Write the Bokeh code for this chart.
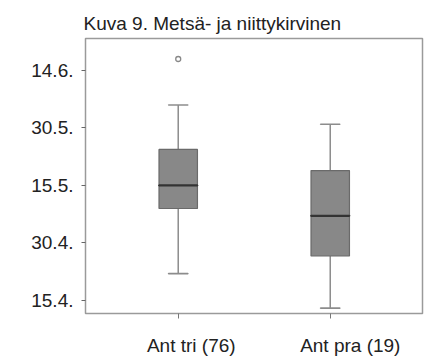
from bokeh.plotting import figure
from bokeh.models import Range1d, FixedTicker
from bokeh.embed import file_html
from bokeh.resources import INLINE

# Nesting date (day of year) summaries for the two pipit species
groups = ["Ant tri (76)", "Ant pra (19)"]
lower_whisker = [112.0, 103.0]
q1 = [129.0, 116.6]
median = [135.0, 127.1]
q3 = [144.4, 138.9]
upper_whisker = [156.0, 151.0]
outlier_x = [1]
outlier_y = [168.0]

# y ticks: day of year and Finnish date labels
tick_days = [105, 120, 135, 150, 165]
tick_labels = ["15.4.", "30.4.", "15.5.", "30.5.", "14.6."]

xs = [1, 2]
# group names sit a little to the right of their boxes
label_pos = [1.086, 2.132]

FONT = "Liberation Sans"
GRAY = "#8c8c8c"

p = figure(width=426, height=360, output_backend="svg", toolbar_location=None,
           x_range=Range1d(0.39, 2.607), y_range=Range1d(101.6, 173.35),
           min_border_left=85, min_border_right=4, min_border_top=38,
           min_border_bottom=47, background_fill_color="white",
           border_fill_color="white")

p.title.text = "Kuva 9. Metsä- ja niittykirvinen"
p.title.text_font = FONT
p.title.text_font_size = "19px"
p.title.text_font_style = "normal"
p.title.text_color = "#222222"
p.title.align = "left"
p.title.offset = -2

p.xgrid.visible = False
p.ygrid.visible = False
p.outline_line_color = "#9a9a9a"
p.outline_line_width = 1.5

# y axis
p.yaxis.ticker = FixedTicker(ticks=tick_days)
p.yaxis.major_label_overrides = {d: s for d, s in zip(tick_days, tick_labels)}
p.yaxis.axis_line_color = None
p.yaxis.major_tick_line_color = "#666666"
p.yaxis.major_tick_in = 0
p.yaxis.major_tick_out = 4
p.yaxis.minor_tick_line_color = None
p.yaxis.major_label_standoff = 8
p.yaxis.major_label_text_font = FONT
p.yaxis.major_label_text_font_size = "19px"
p.yaxis.major_label_text_color = "#222222"

# x axis: group names as major labels, tick marks at the box centres as minor ticks
p.xaxis.ticker = FixedTicker(ticks=label_pos, minor_ticks=xs)
p.xaxis.major_label_overrides = {x: g for x, g in zip(label_pos, groups)}
p.xaxis.axis_line_color = None
p.xaxis.major_tick_line_color = None
p.xaxis.major_tick_in = 0
p.xaxis.major_tick_out = 5
p.xaxis.minor_tick_line_color = "#777777"
p.xaxis.minor_tick_line_width = 1
p.xaxis.minor_tick_in = 0
p.xaxis.minor_tick_out = 5
p.xaxis.major_label_standoff = 16
p.xaxis.major_label_text_font = FONT
p.xaxis.major_label_text_font_size = "19px"
p.xaxis.major_label_text_color = "#222222"

# whiskers
p.segment(xs, upper_whisker, xs, q3, line_color=GRAY, line_width=1.5)
p.segment(xs, lower_whisker, xs, q1, line_color=GRAY, line_width=1.5)
p.rect(xs, upper_whisker, width=0.128, height=0.01, line_color=GRAY,
       line_width=1.5, fill_color=None)
p.rect(xs, lower_whisker, width=0.128, height=0.01, line_color=GRAY,
       line_width=1.5, fill_color=None)

# boxes
p.vbar(x=xs, bottom=q1, top=q3, width=0.253, fill_color="#888888",
       line_color="#6a6a6a", line_width=1.2)
p.rect(xs, median, width=0.253, height=0.01, line_color="#333333",
       line_width=2.2, fill_color=None)

# outlier
p.scatter(outlier_x, outlier_y, size=5, marker="circle", fill_color="white",
          line_color="#888888", line_width=1.3)

open("out.html", "w").write(file_html(p, INLINE))
